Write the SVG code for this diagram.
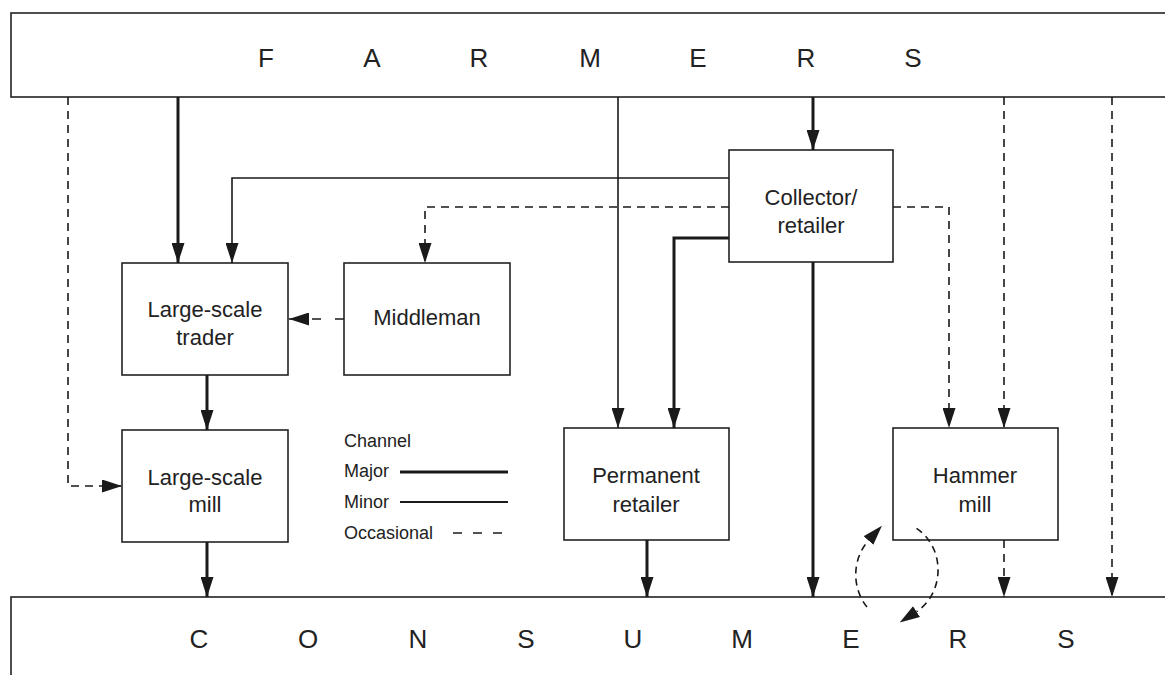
<svg xmlns="http://www.w3.org/2000/svg" width="1165" height="675" viewBox="0 0 1165 675">
<style>
.box{fill:#fff;stroke:#222;stroke-width:1.6}
.lbl{font-family:"Liberation Sans",Arial,sans-serif;font-size:22px;fill:#222;text-anchor:middle}
.big{font-family:"Liberation Sans",Arial,sans-serif;font-size:26px;fill:#222;text-anchor:middle}
.leg{font-family:"Liberation Sans",Arial,sans-serif;font-size:18px;fill:#222}
.major{fill:none;stroke:#1a1a1a;stroke-width:3}
.minor{fill:none;stroke:#1a1a1a;stroke-width:1.6}
.occ{fill:none;stroke:#1a1a1a;stroke-width:1.6;stroke-dasharray:8 6}
.arc{fill:none;stroke:#1a1a1a;stroke-width:1.6;stroke-dasharray:7 5}
</style>
<defs>
<marker id="ah" markerUnits="userSpaceOnUse" markerWidth="20" markerHeight="13" refX="20" refY="6.5" orient="auto">
<path d="M0,0 L20,6.5 L0,13 z" fill="#1a1a1a"/>
</marker>
<marker id="ahb" markerUnits="userSpaceOnUse" markerWidth="20" markerHeight="13" refX="0" refY="6.5" orient="auto">
<path d="M0,0 L20,6.5 L0,13 z" fill="#1a1a1a"/>
</marker>
</defs>
<rect width="1165" height="675" fill="#fff"/>

<g id="farmers">
<rect class="box" x="11" y="13" width="1170" height="84"/>
<text class="big" x="266" y="67">F</text>
<text class="big" x="372" y="67">A</text>
<text class="big" x="479" y="67">R</text>
<text class="big" x="590" y="67">M</text>
<text class="big" x="698" y="67">E</text>
<text class="big" x="806" y="67">R</text>
<text class="big" x="913" y="67">S</text>
</g>

<g id="consumers">
<rect class="box" x="11" y="597" width="1170" height="100"/>
<text class="big" x="199" y="648">C</text>
<text class="big" x="308" y="648">O</text>
<text class="big" x="418" y="648">N</text>
<text class="big" x="526" y="648">S</text>
<text class="big" x="633" y="648">U</text>
<text class="big" x="742" y="648">M</text>
<text class="big" x="851" y="648">E</text>
<text class="big" x="958" y="648">R</text>
<text class="big" x="1066" y="648">S</text>
</g>

<g id="trader">
<rect class="box" x="122" y="263" width="166" height="112"/>
<text class="lbl" x="205" y="317">Large-scale</text>
<text class="lbl" x="205" y="345">trader</text>
</g>

<g id="middleman">
<rect class="box" x="344" y="263" width="166" height="112"/>
<text class="lbl" x="427" y="325">Middleman</text>
</g>

<g id="collector">
<rect class="box" x="729" y="150" width="164" height="112"/>
<text class="lbl" x="811" y="205">Collector/</text>
<text class="lbl" x="811" y="233">retailer</text>
</g>

<g id="mill">
<rect class="box" x="122" y="430" width="166" height="112"/>
<text class="lbl" x="205" y="485">Large-scale</text>
<text class="lbl" x="205" y="512">mill</text>
</g>

<g id="permanent">
<rect class="box" x="564" y="428" width="165" height="112"/>
<text class="lbl" x="646" y="483">Permanent</text>
<text class="lbl" x="646" y="512">retailer</text>
</g>

<g id="hammer">
<rect class="box" x="893" y="428" width="165" height="112"/>
<text class="lbl" x="975" y="483">Hammer</text>
<text class="lbl" x="975" y="512">mill</text>
</g>

<g id="connectors">
<path class="major" d="M178,97 L178,263" marker-end="url(#ah)"/>
<path class="minor" d="M729,178 L232,178 L232,263" marker-end="url(#ah)"/>
<path class="occ" d="M729,207 L425,207 L425,263" marker-end="url(#ah)"/>
<path class="occ" d="M344,319 L289,319" style="stroke-dasharray:9 14" marker-end="url(#ah)"/>
<path class="major" d="M207,375 L207,430" marker-end="url(#ah)"/>
<path class="occ" d="M68,97 L68,486 L122,486" marker-end="url(#ah)"/>
<path class="major" d="M207,542 L207,597" marker-end="url(#ah)"/>
<path class="minor" d="M618,97 L618,428" marker-end="url(#ah)"/>
<path class="major" d="M729,238 L674,238 L674,428" marker-end="url(#ah)"/>
<path class="major" d="M813,97 L813,150" marker-end="url(#ah)"/>
<path class="major" d="M813,262 L813,597" marker-end="url(#ah)"/>
<path class="occ" d="M893,207 L949,207 L949,428" marker-end="url(#ah)"/>
<path class="occ" d="M1004,97 L1004,428" marker-end="url(#ah)"/>
<path class="occ" d="M1112,97 L1112,597" marker-end="url(#ah)"/>
<path class="occ" d="M1004,540 L1004,597" marker-end="url(#ah)"/>
<path class="major" d="M647,540 L647,597" marker-end="url(#ah)"/>
<path class="arc" d="M867,607 A43,48 0 0 1 868.5,540.5" marker-end="url(#ahb)"/>
<path class="arc" d="M916.5,528.4 A43,48 0 0 1 916.5,611.6" marker-end="url(#ahb)"/>
</g>

<g id="legend">
<text class="leg" x="344" y="447">Channel</text>
<text class="leg" x="344" y="477">Major</text>
<line class="major" x1="400" y1="472" x2="508" y2="472"/>
<text class="leg" x="344" y="508">Minor</text>
<line class="minor" x1="400" y1="502" x2="508" y2="502" style="stroke-width:2"/>
<text class="leg" x="344" y="539">Occasional</text>
<line class="occ" x1="453" y1="533" x2="503" y2="533" style="stroke-dasharray:9 11"/>
</g>
</svg>
